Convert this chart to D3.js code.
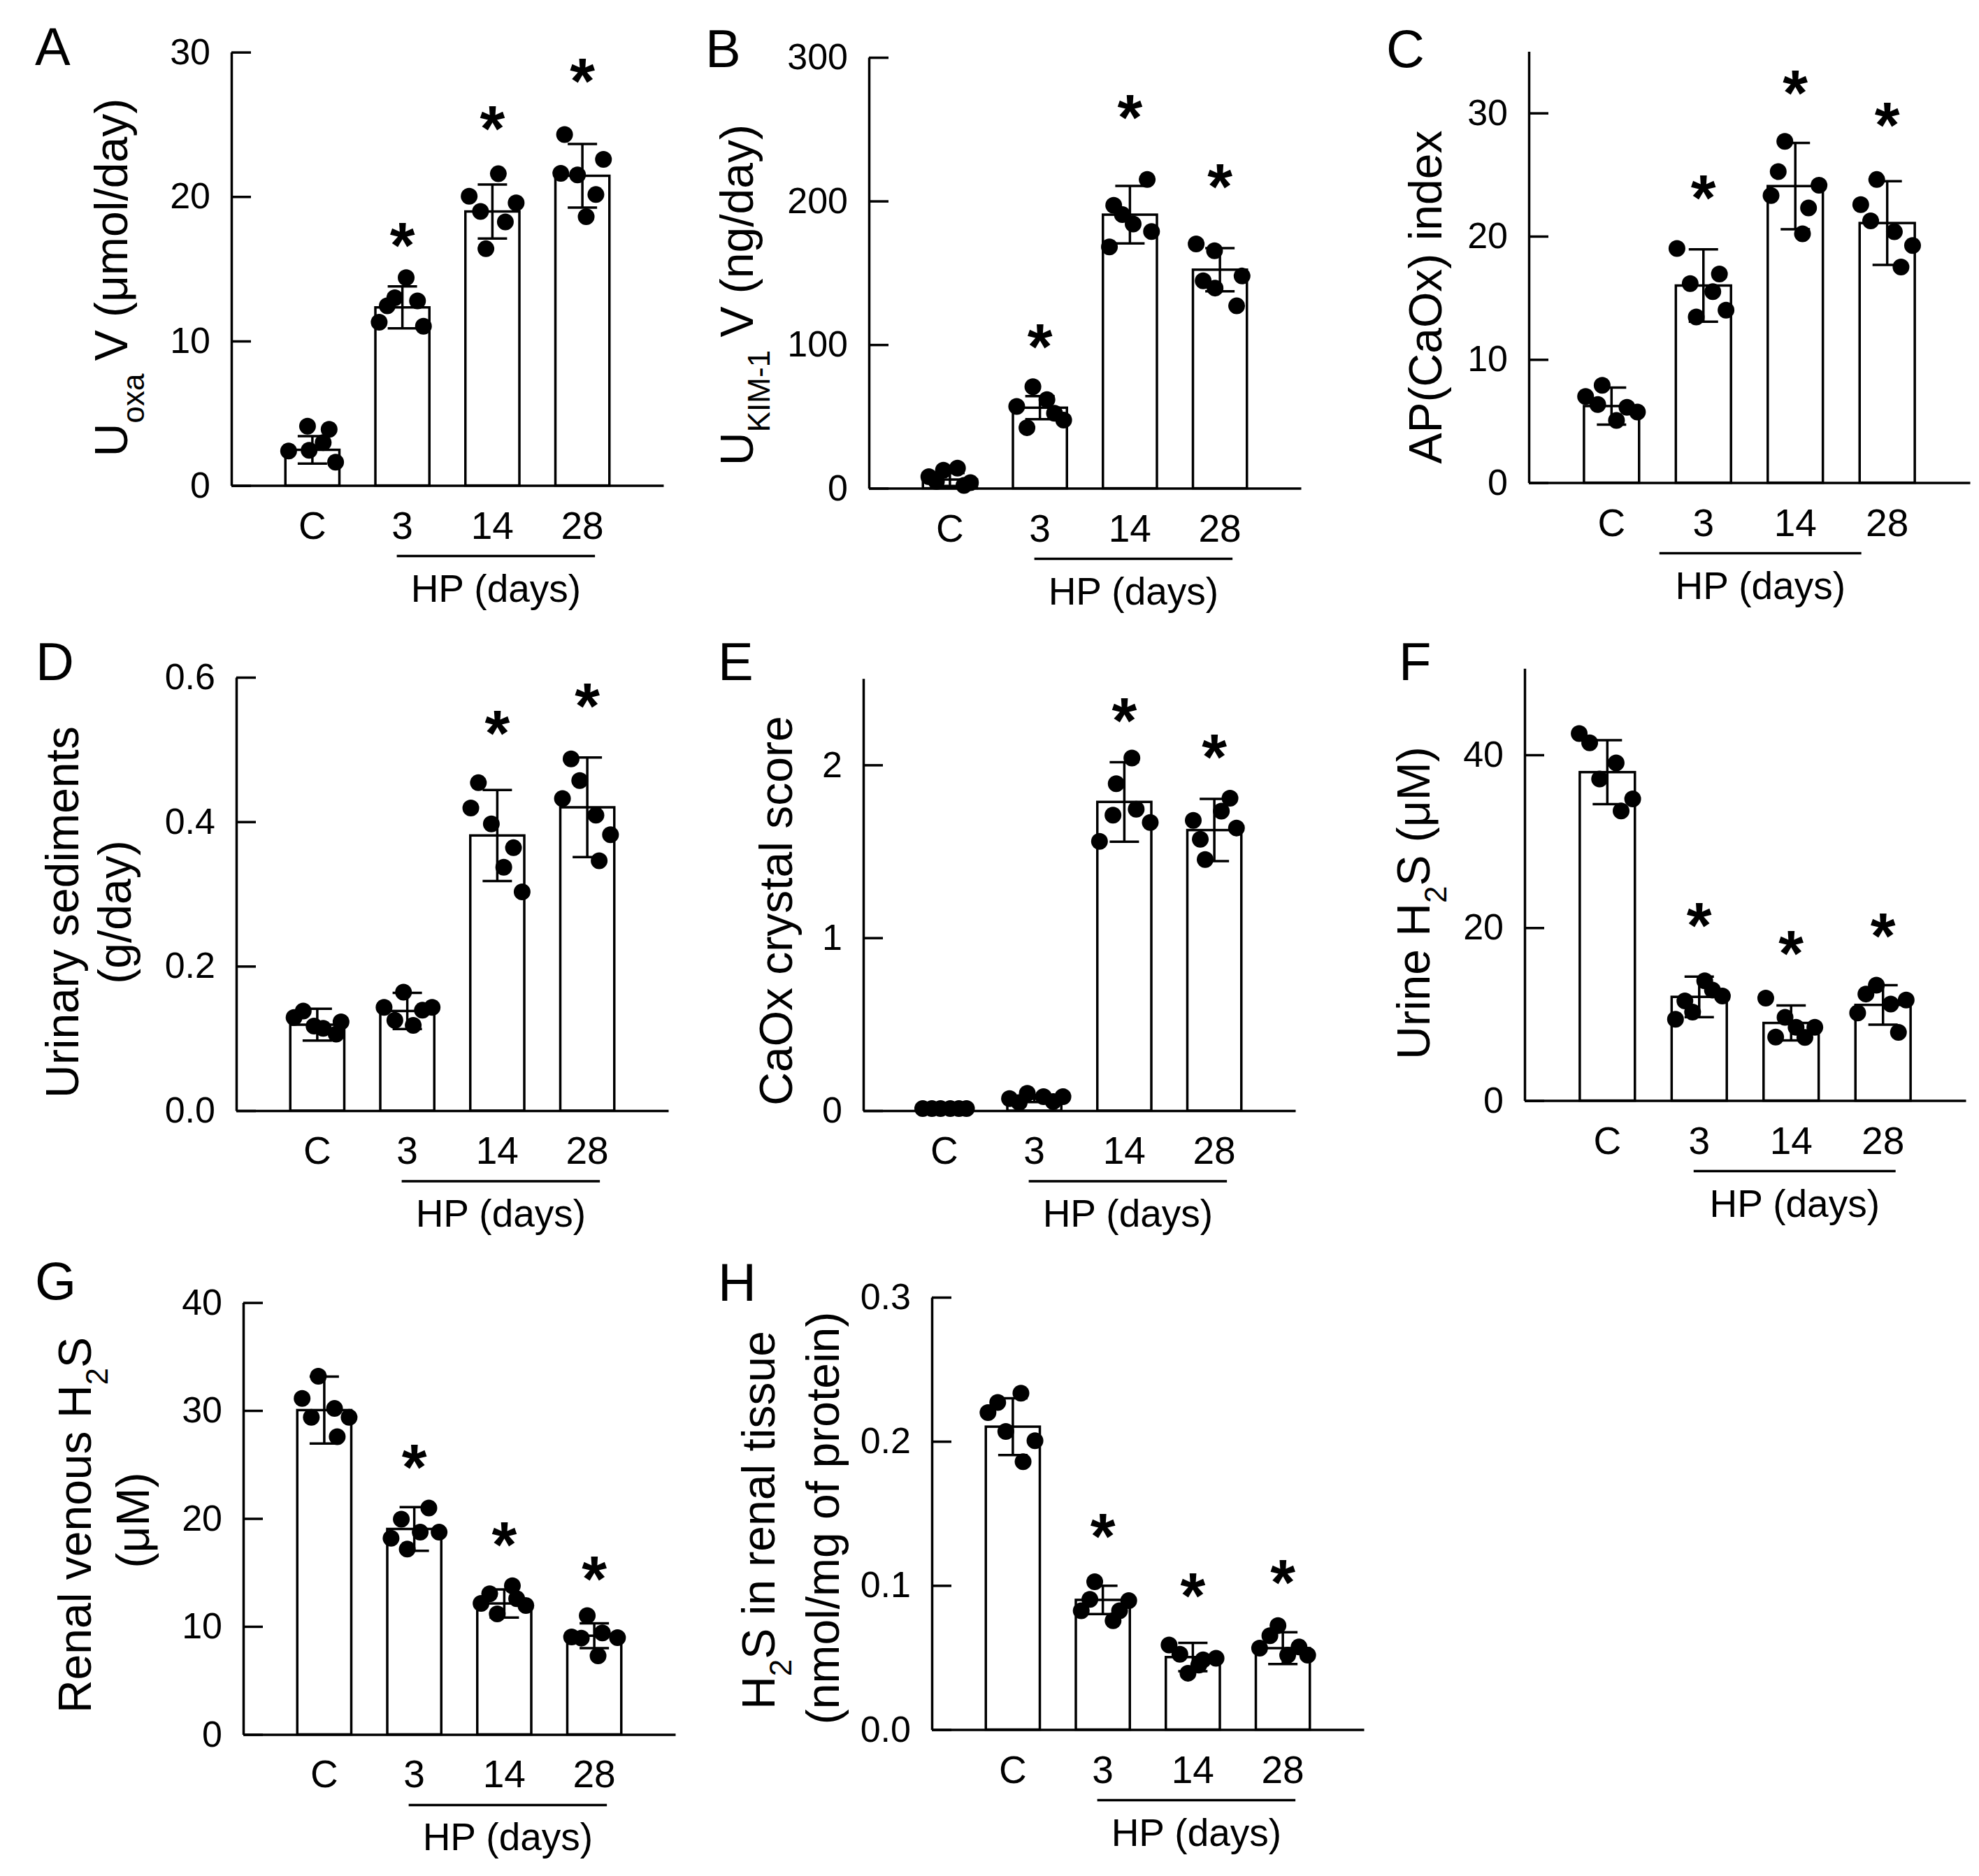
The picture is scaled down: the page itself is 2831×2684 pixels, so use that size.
<!DOCTYPE html>
<html>
<head>
<meta charset="utf-8">
<script src="https://cdn.jsdelivr.net/npm/d3@7"></script>
<style>
  body { margin: 0; background: #fff; }
  svg { display: block; }
</style>
</head>
<body>
<svg id="fig" width="2831" height="2684"></svg>
<script>
// Groups on every x axis
const CATS = ['C', '3', '14', '28'];

// ---- A: urinary oxalate (µmol/day)
const A_MEAN = [2.47, 12.33, 18.97, 21.44];
const A_SD = [0.95, 1.45, 1.87, 2.2];
const A_DOTS = [[2.39, 4.11, 2.44, 2.97, 3.89, 1.61], [11.3, 12.44, 13.0, 14.39, 12.78, 11.03],
  [20.03, 18.97, 16.39, 21.58, 18.25, 19.56], [21.61, 24.3, 21.5, 18.61, 20.14, 22.58]];
const A_JIT = [[-0.44, -0.09, -0.06, 0.2, 0.31, 0.43], [-0.43, -0.28, -0.14, 0.07, 0.28, 0.39],
  [-0.43, -0.22, -0.12, 0.11, 0.24, 0.44], [-0.4, -0.33, -0.09, 0.07, 0.25, 0.39]];
const A_STAR = [null, 17.6, 25.7, 29.0];
const A_TICKS = [0, 10, 20, 30];

// ---- B: urinary KIM-1 (ng/day)
const B_MEAN = [6.1, 56.1, 190.5, 152.2];
const B_SD = [4.5, 8, 20, 15];
const B_DOTS = [[8.1, 4.7, 12.6, 14, 2, 3.9], [57, 42.2, 70.7, 61.7, 52.2, 47.5],
  [168, 197, 190.5, 184, 215, 178.8], [170.1, 144.4, 165.4, 139.4, 127, 147.8]];
const B_JIT = [[-0.39, -0.25, -0.12, 0.14, 0.26, 0.38], [-0.43, -0.24, -0.13, 0.13, 0.27, 0.44],
  [-0.38, -0.3, -0.14, 0.06, 0.32, 0.4], [-0.44, -0.31, -0.1, -0.09, 0.31, 0.41]];
const B_STAR = [null, 108.7, 268, 220];
const B_TICKS = [0, 100, 200, 300];

// ---- C: AP(CaOx) index
const C_MEAN = [6.22, 16.0, 24.07, 21.07];
const C_SD = [1.5, 2.93, 3.5, 3.4];
const C_DOTS = [[7.0, 6.35, 7.9, 5.05, 6.12, 5.73], [19.0, 16.16, 13.45, 15.5, 16.94, 14.0],
  [23.3, 25.24, 27.7, 20.2, 22.3, 24.14], [22.57, 21.24, 24.6, 20.36, 17.5, 19.25]];
const C_JIT = [[-0.47, -0.25, -0.17, 0.09, 0.28, 0.47], [-0.48, -0.24, -0.13, 0.17, 0.29, 0.41],
  [-0.44, -0.31, -0.19, 0.13, 0.24, 0.43], [-0.48, -0.3, -0.19, 0.13, 0.25, 0.46]];
const C_STAR = [null, 24.3, 32.8, 30.2];
const C_TICKS = [0, 10, 20, 30];

// ---- D: urinary sediments (g/day)
const D_MEAN = [0.119, 0.138, 0.381, 0.42];
const D_SD = [0.022, 0.025, 0.063, 0.069];
const D_DOTS = [[0.129, 0.138, 0.117, 0.114, 0.106, 0.123], [0.143, 0.125, 0.164, 0.118, 0.139, 0.143],
  [0.419, 0.454, 0.397, 0.337, 0.364, 0.303], [0.432, 0.487, 0.457, 0.409, 0.346, 0.382]];
const D_JIT = [[-0.43, -0.26, -0.06, 0.11, 0.35, 0.44], [-0.43, -0.23, -0.07, 0.11, 0.28, 0.46],
  [-0.49, -0.35, -0.11, 0.12, 0.3, 0.46], [-0.46, -0.3, -0.14, 0.16, 0.22, 0.43]];
const D_STAR = [null, null, 0.542, 0.58];
const D_TICKS = [0, 0.2, 0.4, 0.6];

// ---- E: CaOx crystal score
const E_MEAN = [0, 0.07, 1.786, 1.623];
const E_SD = [0, 0.02, 0.23, 0.18];
const E_DOTS = [[0.012, 0.012, 0.012, 0.012, 0.012, 0.012], [0.07, 0.047, 0.1, 0.081, 0.053, 0.081],
  [1.558, 1.709, 1.891, 2.04, 1.744, 1.667], [1.679, 1.57, 1.453, 1.733, 1.807, 1.635]];
const E_JIT = [[-0.4, -0.23, -0.07, 0.11, 0.27, 0.41], [-0.46, -0.28, -0.13, 0.17, 0.35, 0.53],
  [-0.46, -0.21, -0.15, 0.14, 0.22, 0.48], [-0.39, -0.26, -0.17, 0.13, 0.29, 0.41]];
const E_STAR = [null, null, 2.34, 2.13];
const E_TICKS = [0, 1, 2];

// ---- F: urine H2S (µM)
const F_MEAN = [38.0, 12.0, 8.98, 11.07];
const F_SD = [3.7, 2.35, 2.02, 2.28];
const F_DOTS = [[42.47, 41.4, 37.2, 39.07, 33.5, 34.9], [9.4, 11.53, 10.23, 13.86, 12.79, 12.09],
  [11.86, 7.35, 9.63, 8.47, 7.3, 8.47], [10.14, 12.33, 13.35, 11.16, 7.9, 11.63]];
const F_JIT = [[-0.51, -0.32, -0.14, 0.16, 0.25, 0.46], [-0.43, -0.26, -0.12, 0.1, 0.24, 0.42],
  [-0.46, -0.28, -0.11, 0.09, 0.25, 0.43], [-0.46, -0.31, -0.12, 0.14, 0.28, 0.42]];
const F_STAR = [null, 21.9, 18.7, 20.7];
const F_TICKS = [0, 20, 40];

// ---- G: renal venous H2S (µM)
const G_MEAN = [30.04, 19.03, 12.13, 9.14];
const G_SD = [3.1, 2.03, 1.3, 1.15];
const G_DOTS = [[31.12, 29.37, 33.17, 30.19, 27.57, 29.37], [18.17, 19.93, 17.16, 18.73, 20.97, 18.73],
  [12.13, 13.02, 11.16, 13.77, 12.57, 11.94], [9.03, 8.92, 11.0, 7.28, 9.4, 8.96]];
const G_JIT = [[-0.41, -0.24, -0.11, 0.19, 0.24, 0.46], [-0.43, -0.24, -0.13, 0.11, 0.27, 0.46],
  [-0.43, -0.27, -0.13, 0.15, 0.23, 0.4], [-0.42, -0.24, -0.13, 0.07, 0.15, 0.43]];
const G_STAR = [null, 26.1, 18.9, 15.7];
const G_TICKS = [0, 10, 20, 30, 40];

// ---- H: H2S in renal tissue (nmol/mg of protein)
const H_MEAN = [0.2102, 0.09, 0.0503, 0.0565];
const H_SD = [0.0197, 0.0098, 0.0098, 0.011];
const H_DOTS = [[0.22, 0.227, 0.2069, 0.2334, 0.1859, 0.2004], [0.0825, 0.0903, 0.1026, 0.0755, 0.0825, 0.0895],
  [0.0587, 0.0523, 0.0391, 0.0447, 0.0484, 0.0495], [0.0565, 0.0651, 0.0721, 0.0517, 0.0573, 0.0517]];
const H_JIT = [[-0.46, -0.28, -0.13, 0.15, 0.19, 0.41], [-0.4, -0.24, -0.15, 0.19, 0.31, 0.48],
  [-0.44, -0.24, -0.09, 0.11, 0.19, 0.43], [-0.43, -0.24, -0.09, 0.09, 0.3, 0.46]];
const H_STAR = [null, 0.144, 0.1026, 0.1118];
const H_TICKS = [0, 0.1, 0.2, 0.3];

const FONT = 'Arial, "Liberation Sans", sans-serif';
const SW = 3.5;          // line weight
const STAR_FS = 92;
const TICK_FS = 52;
const CAT_FS = 55;
const TITLE_FS = 66;

// label parts: [text, isSubscript]
const PANELS = [
  { id: 'A', mean: A_MEAN, sd: A_SD, dots: A_DOTS, jit: A_JIT, star: A_STAR, ticks: A_TICKS, max: 30,
    x0: 331, y0: 694.6, top: 74.6, w: 618, letter: [50, 93], lineShift: 0,
    label: [{ x: 182, y: 397, parts: [['U'], ['oxa', 1], [' V (μmol/day)']] }] },
  { id: 'B', mean: B_MEAN, sd: B_SD, dots: B_DOTS, jit: B_JIT, star: B_STAR, ticks: B_TICKS, max: 300,
    x0: 1243, y0: 698.6, top: 82.1, w: 618, letter: [1009, 96], lineShift: 0,
    label: [{ x: 1077, y: 422, parts: [['U'], ['KIM-1', 1], [' V (ng/day)']] }] },
  { id: 'C', mean: C_MEAN, sd: C_SD, dots: C_DOTS, jit: C_JIT, star: C_STAR, ticks: C_TICKS, max: 35,
    x0: 2187, y0: 690.6, top: 73.5, w: 631, letter: [1983, 96], lineShift: -55,
    label: [{ x: 2062, y: 425, parts: [['AP(CaOx) index']] }] },
  { id: 'D', mean: D_MEAN, sd: D_SD, dots: D_DOTS, jit: D_JIT, star: D_STAR, ticks: D_TICKS, max: 0.6, fmt: '.1f',
    x0: 338, y0: 1589, top: 969, w: 618, letter: [51, 973], lineShift: 0,
    label: [{ x: 112, y: 1305, parts: [['Urinary sediments']] }, { x: 187, y: 1305, parts: [['(g/day)']] }] },
  { id: 'E', mean: E_MEAN, sd: E_SD, dots: E_DOTS, jit: E_JIT, star: E_STAR, ticks: E_TICKS, max: 2.5,
    x0: 1235, y0: 1589, top: 970.7, w: 618, letter: [1027, 973], lineShift: 0,
    label: [{ x: 1133, y: 1303, parts: [['CaOx crystal score']] }] },
  { id: 'F', mean: F_MEAN, sd: F_SD, dots: F_DOTS, jit: F_JIT, star: F_STAR, ticks: F_TICKS, max: 50,
    x0: 2181, y0: 1574.6, top: 956.3, w: 631, letter: [2001, 973], lineShift: 0,
    label: [{ x: 2045, y: 1292, parts: [['Urine H'], ['2', 1], ['S (μM)']] }] },
  { id: 'G', mean: G_MEAN, sd: G_SD, dots: G_DOTS, jit: G_JIT, star: G_STAR, ticks: G_TICKS, max: 40,
    x0: 348, y0: 2481.4, top: 1863.6, w: 618, letter: [50, 1859], lineShift: 0,
    label: [{ x: 130, y: 2182, parts: [['Renal venous H'], ['2', 1], ['S']] }, { x: 213, y: 2175, parts: [['(μM)']] }] },
  { id: 'H', mean: H_MEAN, sd: H_SD, dots: H_DOTS, jit: H_JIT, star: H_STAR, ticks: H_TICKS, max: 0.3, fmt: '.1f',
    x0: 1333, y0: 2474.5, top: 1856, w: 618, letter: [1027, 1861], lineShift: 0,
    label: [{ x: 1108, y: 2175, parts: [['H'], ['2', 1], ['S in renal tissue']] }, { x: 1200, y: 2172, parts: [['(nmol/mg of protein)']] }] }
];

const svg = d3.select('#fig');
svg.append('rect').attr('width', 2831).attr('height', 2684).attr('fill', '#fff');

function drawPanel(p) {
  const g = svg.append('g').attr('class', 'panel-' + p.id);

  const x = d3.scaleBand().domain(CATS).range([p.x0, p.x0 + p.w])
    .paddingInner(0.4).paddingOuter(0.6);
  const y = d3.scaleLinear().domain([0, p.max]).range([p.y0, p.top]);
  const bw = x.bandwidth();
  const cx = i => x(CATS[i]) + bw / 2;

  // bars
  g.selectAll('rect.bar').data(p.mean).join('rect')
    .attr('class', 'bar')
    .attr('x', (d, i) => x(CATS[i])).attr('y', d => y(d))
    .attr('width', bw).attr('height', d => p.y0 - y(d))
    .attr('fill', '#fff').attr('stroke', '#000').attr('stroke-width', SW);

  // error bars (mean ± SD)
  p.mean.forEach((m, i) => {
    const s = p.sd[i];
    if (!s) return;
    const lo = y(m - s), hi = y(m + s), c = cx(i);
    g.append('line').attr('x1', c).attr('x2', c).attr('y1', lo).attr('y2', hi)
      .attr('stroke', '#000').attr('stroke-width', SW);
    [lo, hi].forEach(v => {
      g.append('line').attr('x1', c - 21).attr('x2', c + 21).attr('y1', v).attr('y2', v)
        .attr('stroke', '#000').attr('stroke-width', SW);
    });
  });

  // individual animals
  p.dots.forEach((grp, i) => {
    g.selectAll(null).data(grp).join('circle')
      .attr('cx', (d, k) => cx(i) + p.jit[i][k] * bw)
      .attr('cy', d => y(d))
      .attr('r', 12).attr('fill', '#000');
  });

  // significance marks
  p.star.forEach((s, i) => {
    if (s == null) return;
    g.append('text').attr('x', cx(i)).attr('y', y(s) + 0.57 * STAR_FS)
      .attr('text-anchor', 'middle').attr('font-family', FONT)
      .attr('font-size', STAR_FS).attr('font-weight', 'bold')
      .text('*');
  });

  // y axis, ticks pointing inward
  const yAxis = d3.axisLeft(y).tickValues(p.ticks)
    .tickSizeInner(-28).tickSizeOuter(0).tickPadding(30)
    .tickFormat(p.fmt ? d3.format(p.fmt) : d3.format('d'));
  const ya = g.append('g').attr('transform', `translate(${p.x0},0)`).call(yAxis);
  ya.select('.domain').attr('stroke-width', SW);
  ya.selectAll('.tick line').attr('stroke-width', SW);
  ya.selectAll('.tick text').attr('font-family', FONT).attr('font-size', TICK_FS).attr('fill', '#000');

  // x axis baseline + group labels
  const xAxis = d3.axisBottom(x).tickSize(0).tickSizeOuter(0);
  const xa = g.append('g').attr('transform', `translate(0,${p.y0})`).call(xAxis);
  xa.select('.domain').attr('stroke-width', SW);
  xa.selectAll('.tick text').attr('font-family', FONT).attr('font-size', CAT_FS).attr('fill', '#000')
    .attr('y', 76).attr('dy', 0);

  // HP (days) bracket
  const lx1 = cx(1) - 8 + p.lineShift, lx2 = cx(3) + 18 + p.lineShift;
  g.append('line').attr('x1', lx1).attr('x2', lx2).attr('y1', p.y0 + 101).attr('y2', p.y0 + 101)
    .attr('stroke', '#000').attr('stroke-width', SW);
  g.append('text').attr('x', (lx1 + lx2) / 2).attr('y', p.y0 + 166)
    .attr('text-anchor', 'middle').attr('font-family', FONT).attr('font-size', CAT_FS)
    .text('HP (days)');

  // y title (rotated, possibly two lines, with subscripts)
  p.label.forEach(l => {
    const t = g.append('text')
      .attr('transform', `translate(${l.x},${l.y}) rotate(-90)`)
      .attr('text-anchor', 'middle').attr('font-family', FONT).attr('font-size', TITLE_FS);
    let shifted = false;
    l.parts.forEach(([txt, sub]) => {
      const ts = t.append('tspan').text(txt);
      if (sub) { ts.attr('font-size', 44).attr('dy', 24); shifted = true; }
      else if (shifted) { ts.attr('dy', -24); shifted = false; }
    });
  });

  // panel letter
  g.append('text').attr('x', p.letter[0]).attr('y', p.letter[1])
    .attr('font-family', FONT).attr('font-size', 76).text(p.id);
}

PANELS.forEach(drawPanel);
</script>
</body>
</html>
